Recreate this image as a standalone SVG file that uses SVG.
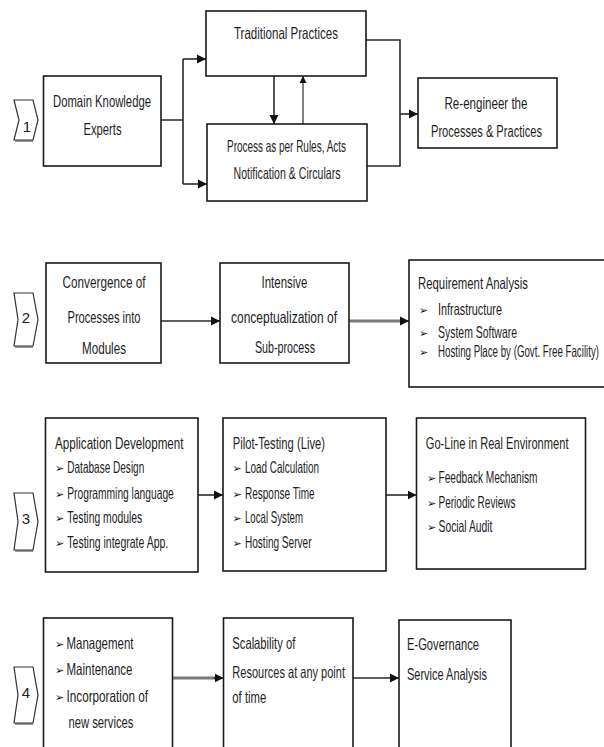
<svg xmlns="http://www.w3.org/2000/svg" width="604" height="747" viewBox="0 0 604 747">
<defs>
<marker id="ah" markerUnits="userSpaceOnUse" markerWidth="10" markerHeight="10" refX="9" refY="5" orient="auto">
<path d="M0,0.5 L9,5 L0,9.5 z" fill="#111"/>
</marker>
<marker id="ahs" markerUnits="userSpaceOnUse" markerWidth="8" markerHeight="8" refX="7" refY="4" orient="auto">
<path d="M0,0.5 L7,4 L0,7.5 z" fill="#111"/>
</marker>
</defs>
<style>
.box{fill:#fff;stroke:#1a1a1a;stroke-width:1.6}
.t{font-family:"Liberation Sans",Arial,sans-serif;font-size:10.5px;fill:#1e1e1e}
.c{text-anchor:middle}
.b{font-family:"DejaVu Sans",sans-serif;font-size:11px;font-weight:bold;fill:#111}
.ln{fill:none;stroke:#2a2a2a;stroke-width:1.6}
.gr{fill:none;stroke:#7a7a7a;stroke-width:3}
.chev{fill:#fff;stroke:#333;stroke-width:1.2}
.sh{fill:none;stroke:#999;stroke-width:2}
.num{font-family:"Liberation Sans",Arial,sans-serif;font-size:15px;fill:#222;text-anchor:middle}
</style>
<rect width="604" height="747" fill="#fff"/>

<g id="connectors">
<path class="ln" d="M161,120 H183 M183,59 V184"/>
<path class="ln" d="M183,59 H206" marker-end="url(#ah)"/>
<path class="ln" d="M183,184 H207" marker-end="url(#ah)"/>
<path class="ln" d="M274,76 V124" marker-end="url(#ah)"/>
<path class="ln" style="stroke-width:1.2" d="M303,124 V76" marker-end="url(#ahs)"/>
<path class="ln" d="M366,40 H400 V166 H367"/>
<path class="ln" d="M400,114 H418" marker-end="url(#ah)"/>
<path class="ln" d="M161,321 H220" marker-end="url(#ah)"/>
<path class="gr" d="M349,321 H403"/>
<path class="ln" d="M400,321 H409" marker-end="url(#ah)"/>
<path class="ln" d="M198,495 H223" marker-end="url(#ah)"/>
<path class="ln" d="M386,495 H416.5" marker-end="url(#ah)"/>
<path class="gr" d="M172.5,678 H217"/>
<path class="ln" d="M214,678 H223.5" marker-end="url(#ah)"/>
<path class="ln" d="M353,678 H399" marker-end="url(#ah)"/>
</g>

<g id="chevron1">
<path class="sh" d="M15,141 H33"/>
<path class="chev" d="M14,100 H33 L38,120 L33,140 H14 L19,120 Z"/>
<text class="num" x="27" y="132">1</text>
</g>
<g id="chevron2">
<path class="sh" d="M15,347 H33"/>
<path class="chev" d="M14,293 H33 L38,319.5 L33,346 H14 L18,319.5 Z"/>
<text class="num" x="26" y="323">2</text>
</g>
<g id="chevron3">
<path class="sh" d="M15,551 H33"/>
<path class="chev" d="M14,493 H33 L38,521.5 L33,550 H14 L18,521.5 Z"/>
<text class="num" x="26" y="524">3</text>
</g>
<g id="chevron4">
<path class="sh" d="M15,724 H33"/>
<path class="chev" d="M14,667 H33 L38,695 L33,723 H14 L18,695 Z"/>
<text class="num" x="26" y="698">4</text>
</g>

<g id="domain">
<rect class="box" x="43.5" y="76" width="117.5" height="90"/>
<text class="t c" transform="translate(0,107) scale(1,1.55)" x="102" textLength="98" lengthAdjust="spacingAndGlyphs">Domain Knowledge</text>
<text class="t c" transform="translate(0,135) scale(1,1.55)" x="102.5" textLength="38" lengthAdjust="spacingAndGlyphs">Experts</text>
</g>
<g id="traditional">
<rect class="box" x="206" y="11" width="160" height="65"/>
<text class="t c" transform="translate(0,39) scale(1,1.55)" x="286" textLength="104" lengthAdjust="spacingAndGlyphs">Traditional Practices</text>
</g>
<g id="process">
<rect class="box" x="207" y="124" width="160" height="77"/>
<text class="t c" transform="translate(0,152) scale(1,1.55)" x="286.5" textLength="119" lengthAdjust="spacingAndGlyphs">Process as per Rules, Acts</text>
<text class="t c" transform="translate(0,179) scale(1,1.55)" x="287" textLength="107" lengthAdjust="spacingAndGlyphs">Notification &amp; Circulars</text>
</g>
<g id="reengineer">
<rect class="box" x="418" y="78" width="139" height="70"/>
<text class="t c" transform="translate(0,109) scale(1,1.55)" x="486" textLength="83" lengthAdjust="spacingAndGlyphs">Re-engineer the</text>
<text class="t c" transform="translate(0,137) scale(1,1.55)" x="486.5" textLength="111" lengthAdjust="spacingAndGlyphs">Processes &amp; Practices</text>
</g>

<g id="convergence">
<rect class="box" x="46" y="263" width="115" height="100"/>
<text class="t c" transform="translate(0,288) scale(1,1.55)" x="104" textLength="83" lengthAdjust="spacingAndGlyphs">Convergence of</text>
<text class="t c" transform="translate(0,323) scale(1,1.55)" x="104" textLength="73" lengthAdjust="spacingAndGlyphs">Processes into</text>
<text class="t c" transform="translate(0,354) scale(1,1.55)" x="104" textLength="44" lengthAdjust="spacingAndGlyphs">Modules</text>
</g>
<g id="intensive">
<rect class="box" x="220" y="263" width="129" height="100"/>
<text class="t c" transform="translate(0,288) scale(1,1.55)" x="284.5" textLength="46" lengthAdjust="spacingAndGlyphs">Intensive</text>
<text class="t c" transform="translate(0,323) scale(1,1.55)" x="284" textLength="106" lengthAdjust="spacingAndGlyphs">conceptualization of</text>
<text class="t c" transform="translate(0,353) scale(1,1.55)" x="285" textLength="60" lengthAdjust="spacingAndGlyphs">Sub-process</text>
</g>
<g id="requirement">
<rect class="box" x="409" y="260" width="210" height="127"/>
<text class="t" transform="translate(0,289) scale(1,1.55)" x="418" textLength="110" lengthAdjust="spacingAndGlyphs">Requirement Analysis</text>
<text class="b" x="419" y="314">➢</text>
<text class="t" transform="translate(0,315) scale(1,1.55)" x="438" textLength="64" lengthAdjust="spacingAndGlyphs">Infrastructure</text>
<text class="b" x="419" y="337">➢</text>
<text class="t" transform="translate(0,338) scale(1,1.55)" x="438" textLength="79" lengthAdjust="spacingAndGlyphs">System Software</text>
<text class="b" x="419" y="356">➢</text>
<text class="t" style="font-size:9.6px" transform="translate(0,357) scale(1,1.7)" x="438" textLength="161" lengthAdjust="spacingAndGlyphs">Hosting Place by (Govt. Free Facility)</text>
</g>

<g id="appdev">
<rect class="box" x="45.5" y="418" width="152.5" height="154"/>
<text class="t" transform="translate(0,449) scale(1,1.55)" x="55" textLength="128.5" lengthAdjust="spacingAndGlyphs">Application Development</text>
<text class="b" x="55" y="472">➢</text>
<text class="t" transform="translate(0,473) scale(1,1.55)" x="67.3" textLength="77" lengthAdjust="spacingAndGlyphs">Database Design</text>
<text class="b" x="55" y="498">➢</text>
<text class="t" transform="translate(0,499) scale(1,1.55)" x="67.3" textLength="106.5" lengthAdjust="spacingAndGlyphs">Programming language</text>
<text class="b" x="55" y="522">➢</text>
<text class="t" transform="translate(0,523) scale(1,1.55)" x="67.3" textLength="75" lengthAdjust="spacingAndGlyphs">Testing modules</text>
<text class="b" x="55" y="547">➢</text>
<text class="t" transform="translate(0,548) scale(1,1.55)" x="67.3" textLength="101" lengthAdjust="spacingAndGlyphs">Testing integrate App.</text>
</g>
<g id="pilot">
<rect class="box" x="223" y="418" width="163" height="153"/>
<text class="t" transform="translate(0,449) scale(1,1.55)" x="232.7" textLength="92.3" lengthAdjust="spacingAndGlyphs">Pilot-Testing (Live)</text>
<text class="b" x="232.5" y="472">➢</text>
<text class="t" transform="translate(0,473) scale(1,1.55)" x="245" textLength="74" lengthAdjust="spacingAndGlyphs">Load Calculation</text>
<text class="b" x="232.5" y="498">➢</text>
<text class="t" transform="translate(0,499) scale(1,1.55)" x="245" textLength="69.6" lengthAdjust="spacingAndGlyphs">Response Time</text>
<text class="b" x="232.5" y="522">➢</text>
<text class="t" transform="translate(0,523) scale(1,1.55)" x="245" textLength="58" lengthAdjust="spacingAndGlyphs">Local System</text>
<text class="b" x="232.5" y="547">➢</text>
<text class="t" transform="translate(0,548) scale(1,1.55)" x="245" textLength="66.5" lengthAdjust="spacingAndGlyphs">Hosting Server</text>
</g>
<g id="goline">
<rect class="box" x="416.5" y="418" width="169" height="151"/>
<text class="t" transform="translate(0,449) scale(1,1.55)" x="425.8" textLength="142.7" lengthAdjust="spacingAndGlyphs">Go-Line in Real Environment</text>
<text class="b" x="427" y="482">➢</text>
<text class="t" transform="translate(0,483) scale(1,1.55)" x="438.5" textLength="99" lengthAdjust="spacingAndGlyphs">Feedback Mechanism</text>
<text class="b" x="427" y="507">➢</text>
<text class="t" transform="translate(0,508) scale(1,1.55)" x="438.5" textLength="77" lengthAdjust="spacingAndGlyphs">Periodic Reviews</text>
<text class="b" x="427" y="531">➢</text>
<text class="t" transform="translate(0,532) scale(1,1.55)" x="438.5" textLength="54" lengthAdjust="spacingAndGlyphs">Social Audit</text>
</g>

<g id="management">
<rect class="box" x="43.5" y="618" width="129" height="145"/>
<text class="b" x="55" y="648">➢</text>
<text class="t" transform="translate(0,649) scale(1,1.55)" x="66.5" textLength="67" lengthAdjust="spacingAndGlyphs">Management</text>
<text class="b" x="55" y="674">➢</text>
<text class="t" transform="translate(0,675) scale(1,1.55)" x="66.5" textLength="66" lengthAdjust="spacingAndGlyphs">Maintenance</text>
<text class="b" x="55" y="701">➢</text>
<text class="t" transform="translate(0,702) scale(1,1.55)" x="66.5" textLength="81.5" lengthAdjust="spacingAndGlyphs">Incorporation of</text>
<text class="t" transform="translate(0,728) scale(1,1.55)" x="68.5" textLength="65" lengthAdjust="spacingAndGlyphs">new services</text>
</g>
<g id="scalability">
<rect class="box" x="223.5" y="618" width="129.5" height="145"/>
<text class="t" transform="translate(0,649) scale(1,1.55)" x="232.3" textLength="63" lengthAdjust="spacingAndGlyphs">Scalability of</text>
<text class="t" transform="translate(0,678) scale(1,1.55)" x="232.3" textLength="112.7" lengthAdjust="spacingAndGlyphs">Resources at any point</text>
<text class="t" transform="translate(0,703) scale(1,1.55)" x="232.3" textLength="34" lengthAdjust="spacingAndGlyphs">of time</text>
</g>
<g id="egovernance">
<rect class="box" x="399" y="620" width="112" height="143"/>
<text class="t" transform="translate(0,650) scale(1,1.55)" x="407" textLength="72" lengthAdjust="spacingAndGlyphs">E-Governance</text>
<text class="t" transform="translate(0,680) scale(1,1.55)" x="407" textLength="80" lengthAdjust="spacingAndGlyphs">Service Analysis</text>
</g>
</svg>
